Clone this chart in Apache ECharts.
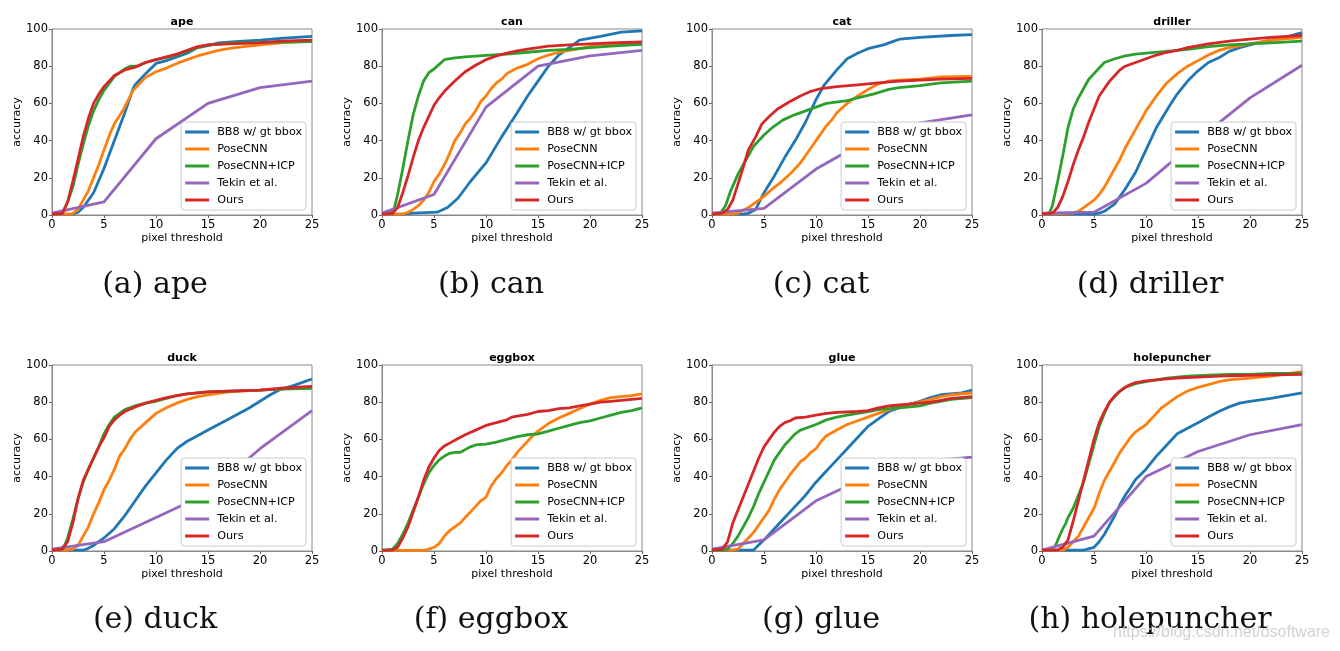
<!DOCTYPE html>
<html>
<head>
<meta charset="utf-8">
<script src="https://cdn.jsdelivr.net/npm/echarts@6/dist/echarts.min.js"></script>
<style>
html,body{margin:0;padding:0;background:#fff;}
#chart{width:1340px;height:651px;}
</style>
</head>
<body>
<div id="chart"></div>
<script>
// ---------- data ----------
const objects = ['ape','can','cat','driller','duck','eggbox','glue','holepuncher'];
const captions = ['(a) ape','(b) can','(c) cat','(d) driller','(e) duck','(f) eggbox','(g) glue','(h) holepuncher'];
const methods = ['BB8 w/ gt bbox','PoseCNN','PoseCNN+ICP','Tekin et al.','Ours'];
const xTicks = [0,5,10,15,20,25];
const yTicks = [0,20,40,60,80,100];
const watermark = 'https://blog.csdn.net/dsoftware';

// ape
const ape_bb8 = [[0,0.5],[1,0.5],[2,0.5],[2.5,1.5],[3,4],[4,12],[5,25],[6,40],[7,55],[7.8,68],[8,70],[9,76],[10,81.5],[11,83],[12,85],[13,87],[14,90],[15,91],[16,92.5],[18,93.3],[20,94],[22,95],[25,96]];
const ape_posecnn = [[0,0.5],[1,0.5],[1.9,0.5],[2.5,3],[3,8],[3.5,13],[4,20],[4.5,27],[5,35],[5.6,44],[6,49],[6.9,57],[7.8,67],[9,74],[10,77],[11,79],[12,81.5],[13,83.5],[14,85.5],[15,87],[16,88.5],[17.4,89.8],[20,91.5],[22,92.5],[25,93.5]];
const ape_icp = [[0,0.5],[1,1],[1.5,7],[2,15],[2.5,27],[3,38],[3.5,48],[4,56],[4.5,62],[5,67],[6,74.5],[7,78.5],[7.5,80],[8.2,80],[9,82],[10,83.5],[12,86],[13.9,89.8],[15,91.5],[17.4,92.5],[20,92.8],[25,93.2]];
const ape_tekin = [[0,1],[5,7],[10,41],[15,60],[20,68.5],[25,72]];
const ape_ours = [[0,0.5],[1,0.8],[1.5,7],[2,18],[2.5,30],[3,42],[3.5,52],[4,60],[4.5,65],[5,69],[6,75],[7,78],[8,79.5],[9,82],[10,83.5],[11,85],[12,86.5],[13,88.5],[14,90.5],[15,91.5],[17,92],[20,92.5],[22,93.5],[25,94]];
// can
const can_bb8 = [[0,0.5],[2,0.5],[3,1],[5.3,1.5],[6.3,4],[7.3,9],[8.5,18],[10,28],[11.5,42],[13,55],[14,64],[15,72],[16,80],[17,86],[18,90],[19,94],[21,96],[23,98.3],[25,99]];
const can_posecnn = [[0,0.5],[2,0.5],[2.5,1.5],[3,3],[3.5,5],[4,8],[4.5,12],[5,18],[5.5,22],[6,27],[6.5,33],[7,40],[7.5,44],[8,49],[8.5,52],[9,56],[9.5,61],[10,64],[10.5,68],[11,71],[11.5,73],[12,76],[13,79],[14,81],[15,84],[16,86],[17,87.5],[18,88.5],[19,89.5],[20,90.5],[22,91.5],[25,92]];
const can_icp = [[0,0.5],[0.8,1],[1.2,4],[1.5,11],[2,25],[2.5,40],[3,54],[3.5,64],[4,72],[4.5,76.5],[5,78.5],[5.5,81],[6,83.5],[7,84.5],[8,85],[10,85.8],[12,86.5],[14,87.5],[16,88.5],[18,89],[20,90],[22,90.8],[25,91.8]];
const can_tekin = [[0,1],[5,11],[10,58],[15,80],[20,85.5],[25,88.5]];
const can_ours = [[0,0.5],[1,0.8],[1.5,4],[2,12],[2.5,21],[3,31],[3.5,40],[4,47],[4.5,53],[5,59],[5.5,63],[6,66.5],[7,72],[8,77],[9,80.5],[10,83.5],[11,85.5],[12,87],[13,88.3],[14,89.2],[15,90],[16,90.8],[18,91.5],[20,92],[22,92.5],[25,93]];
// cat
const cat_bb8 = [[0,0.5],[3,0.5],[3.5,1],[4.2,3],[5,12],[6,21],[7,31],[8,40],[9,50],[10,62],[10.8,70],[12,78],[13,84],[14,87],[15,89.4],[16.5,91.5],[17.5,93.5],[18.1,94.6],[20,95.5],[23,96.5],[25,97]];
const cat_posecnn = [[0,0.5],[2,0.5],[2.5,1],[3,2.5],[3.5,4],[4,6],[4.5,8],[5,10],[5.5,12.5],[6,15],[6.5,17],[7,19.5],[7.5,22],[8,25],[8.5,28],[9,32],[9.5,36],[10,40],[10.5,44],[11,48],[11.5,51],[12,55],[13,60],[14,64],[15,67.5],[16,70.5],[17,72],[18,72.5],[20,73],[22,74.3],[25,74.5]];
const cat_icp = [[0,0.5],[0.8,1],[1.3,5],[1.8,13],[2.5,22],[3.3,30],[4,37],[5,43],[5.8,47],[6.8,51],[8,54],[9,56],[10,58],[11,60],[13,61.5],[14,63],[15.5,65],[17,67.5],[18,68.5],[20,69.5],[22,71],[25,72]];
const cat_tekin = [[0,1],[5,3.6],[10,24.7],[15,40.5],[20,49.5],[25,53.8]];
const cat_ours = [[0,0.5],[1,1],[1.5,3],[2,8],[2.8,22],[3.5,35],[4.2,42],[4.8,49],[5.5,53],[6.3,57],[7.5,61],[8.5,64],[9.5,66.5],[10.5,68],[12,69],[14,70],[16,71],[18,72],[20,72.5],[22,73],[25,73.5]];
// driller
const driller_bb8 = [[0,0.5],[5,0.5],[5.5,1],[6,2],[7,6],[8,14],[9,23],[10,35],[11,47],[12.3,59],[13,65],[14,72],[15,77.5],[16,82],[17,84.5],[18,88],[19,90],[20,91.5],[21,93],[23,95],[25,98]];
const driller_posecnn = [[0,0.5],[3,1],[3.5,2],[4,4],[5,8],[5.5,11],[6,15],[6.5,20],[7,25],[7.5,30],[8,36],[8.5,41],[9,46],[9.5,51],[10,56],[11,64],[12,71],[13,76],[14,80],[15,83],[16,86],[17,88.5],[18,90],[20,92],[22,94],[25,95.5]];
const driller_icp = [[0,0.5],[0.7,1],[1,5],[1.5,18],[2,32],[2.5,47],[3,57],[3.5,63],[4,68],[4.5,73],[5,76],[5.5,79],[6,82],[7,84],[8,85.5],[9,86.5],[10,87],[12,88],[14,89],[16,90.5],[18,91.5],[20,92],[22,92.5],[25,93.5]];
const driller_tekin = [[0,1],[5,1.5],[10,17],[15,40.5],[20,63],[25,80.5]];
const driller_ours = [[0,0.5],[1,1],[1.5,4],[2,10],[2.5,18],[3,27],[3.5,35],[4,42],[4.5,50],[5,57],[5.5,64],[6,68],[6.5,72],[7,75],[7.5,78],[8,80],[9,82],[10,84],[11,86],[12,87.5],[13,88.5],[14,90],[16,92],[18,93.5],[20,94.5],[22,95.5],[25,96.5]];
// duck
const duck_bb8 = [[0,0.5],[3,0.5],[3.3,1],[4,3],[5,7],[6,12],[7,19],[8,27],[9,35],[10,42],[11,49],[12,55],[13,59],[14,62],[15,65],[17,71],[19,77],[21,84],[22,87],[23,88.5],[25,92.5]];
const duck_posecnn = [[0,0.5],[1.5,0.5],[2,1],[2.5,3],[3,8],[3.5,13],[4,20],[4.5,26],[5,33],[5.5,38],[6,44],[6.5,51],[7,55],[7.5,60],[8,64],[9,69],[10,74],[11,77],[12,79.5],[13,81.5],[14,83],[15,84],[17,85.5],[20,86.5],[25,88]];
const duck_icp = [[0,0.5],[0.8,1],[1.2,3],[1.5,7],[2,17],[2.5,28],[3,37],[3.5,44],[4,50],[4.5,56],[5,63],[5.5,68],[6,72],[6.5,74],[7,76],[8,78],[9,79.5],[10,80.5],[11,82],[12,83.5],[13,84.5],[15,85.5],[17,86],[20,86.5],[22,87],[25,87.5]];
const duck_tekin = [[0,1],[5,5],[10,18],[15,31],[20,55],[25,75.5]];
const duck_ours = [[0,0.5],[1,1],[1.5,5],[2,15],[2.5,28],[3,38],[3.5,44],[4,50],[4.5,56],[5,61],[5.5,67],[6,70.5],[6.5,73],[7,75],[8,77.5],[9,79.5],[10,81],[11,82.5],[12,83.5],[13,84.5],[15,85.5],[17,86],[20,86.5],[22,87.5],[25,88.5]];
// eggbox (no BB8 / Tekin results)
const eggbox_bb8 = [];
const eggbox_posecnn = [[0,0.3],[4,0.3],[4.5,1],[5,2],[5.5,4],[6,8],[6.5,11],[7,13],[7.5,15],[8,18],[8.5,21],[9,24],[9.5,27],[10,29],[10.5,35],[11,39],[11.5,42],[12,46],[12.5,49],[13,53],[13.5,56],[14,59],[14.5,62],[15,64.5],[16,68.5],[17,71.5],[18,74],[19,76.5],[20,79],[21,81],[22,82.5],[23,83],[24,83.5],[25,84.5]];
const eggbox_icp = [[0,0.5],[1,1],[1.5,4],[2,9],[2.5,15],[3,22],[3.5,29],[4,36],[4.5,42],[5,46],[5.5,49],[6,51],[6.5,52.5],[7,53],[7.5,53],[8,54.5],[8.5,56],[9,57],[10,57.5],[11,58.5],[12,60],[13,61.5],[14,62.5],[15,63],[16,64.5],[17,66],[18,67.5],[19,69],[20,70],[21,71.5],[22,73],[23,74.5],[24,75.5],[25,77]];
const eggbox_tekin = [];
const eggbox_ours = [[0,0.3],[1,0.5],[1.5,2],[2,7],[2.5,13],[3,21],[3.5,29],[4,38],[4.5,45],[5,50],[5.5,54],[6,56.5],[6.5,58],[7,59.5],[7.5,61],[8,62.5],[9,65],[10,67.5],[11,69],[12,70.5],[12.5,72],[13,72.5],[14,73.5],[15,75],[16,75.5],[17,76.5],[18,77],[19,78],[20,79],[21,80],[22,80.5],[23,81],[24,81.5],[25,82]];
// glue
const glue_bb8 = [[0,0.5],[4,0.5],[5,6],[6,12],[7,18],[8,24],[9,30],[10,37],[11,43],[12,49],[13,55],[14,61],[14.5,64],[15,67],[16,71],[17,75],[18,77],[19,79],[20,80.5],[21,82.5],[22,84],[24,85],[25,86.5]];
const glue_posecnn = [[0,0.5],[2,0.5],[2.5,1],[3,4],[3.5,7],[4,10],[4.5,14],[5,18],[5.5,22],[6,28],[6.5,33],[7,37],[7.5,41],[8,44.5],[8.5,48],[9,50],[9.5,53],[10,55],[10.5,59],[11,62],[12,65],[13,68],[14,70],[15,72],[16,74],[17,76],[18,77.5],[19,79],[20,80],[21,81.5],[22,83],[23,84],[25,85]];
const glue_icp = [[0,0.5],[1,0.5],[1.5,1],[2,4],[2.5,8],[3,13],[3.5,18],[4,24],[4.5,31],[5,37],[5.5,43],[6,49],[6.5,53],[7,57],[7.5,60],[8,63],[8.5,65],[9,66],[10,68],[11,70.5],[12,72],[13,73],[14,74],[15,75],[16,76],[17,76.5],[18,77],[20,78],[21,79.5],[22,80.5],[23,81.5],[25,82.5]];
const glue_tekin = [[0,1],[5,6],[10,27],[15,40],[20,48],[25,50.5]];
const glue_ours = [[0,0.5],[1,1],[1.5,5],[2,15],[2.5,22],[3,29],[3.5,36],[4,43],[4.5,50],[5,56],[5.5,60],[6,64],[6.5,67],[7,69],[7.5,70],[8,71.5],[9,72],[10,73],[11,74],[12,74.5],[14,75],[15,75.5],[16,77],[17,78],[18,78.5],[19,79],[20,79.5],[21,80],[22,81],[23,82],[25,83]];
// holepuncher
const holepuncher_bb8 = [[0,0.5],[4,0.5],[5,2],[5.5,5],[6,9],[6.5,14],[7,19],[7.5,25],[8,30],[8.5,34],[9,38.5],[10,44],[11,51],[12,57],[13,63],[14,66],[15,69],[16,72],[17,75],[18,77.5],[19,79.5],[20,80.5],[22,82],[25,85]];
const holepuncher_posecnn = [[0,0.5],[2,0.5],[2.5,2],[3,5],[3.5,8],[4,13],[4.5,18],[5,23],[5.5,31],[6,38],[6.5,43],[7,48],[7.5,53],[8,57],[8.5,61],[9,64],[9.5,66],[10,68],[10.5,71],[11,74],[11.5,77],[12,79],[12.5,81],[13,83],[14,86],[15,88],[16,89.5],[17,91],[18,92],[19,92.5],[20,93],[22,94],[25,96.5]];
const holepuncher_icp = [[0,0.5],[1,1],[1.3,3],[1.6,7],[2,12],[2.3,15],[2.5,18],[3,23],[3.5,30],[4,37],[4.5,47],[5,57],[5.5,67],[6,74],[6.5,80],[7,83],[7.5,86],[8,88],[8.5,89],[9,90],[10,91],[11,92],[12,93],[14,94],[16,94.5],[18,95],[20,95],[22,95.5],[25,95.5]];
const holepuncher_tekin = [[0,0.5],[5,8],[10,40],[15,53.5],[20,62.5],[25,68]];
const holepuncher_ours = [[0,0.5],[1.5,0.5],[2,2],[2.5,6],[3,16],[3.5,27],[4,38],[4.5,49],[5,60],[5.5,69],[6,75],[6.5,80],[7,83.5],[7.5,86],[8,88],[8.5,89.5],[9,90.5],[10,91.5],[11,92],[12,92.5],[13,93],[15,93.5],[17,94],[20,94.5],[25,95]];

const curves = {
  ape: [ape_bb8, ape_posecnn, ape_icp, ape_tekin, ape_ours],
  can: [can_bb8, can_posecnn, can_icp, can_tekin, can_ours],
  cat: [cat_bb8, cat_posecnn, cat_icp, cat_tekin, cat_ours],
  driller: [driller_bb8, driller_posecnn, driller_icp, driller_tekin, driller_ours],
  duck: [duck_bb8, duck_posecnn, duck_icp, duck_tekin, duck_ours],
  eggbox: [eggbox_bb8, eggbox_posecnn, eggbox_icp, eggbox_tekin, eggbox_ours],
  glue: [glue_bb8, glue_posecnn, glue_icp, glue_tekin, glue_ours],
  holepuncher: [holepuncher_bb8, holepuncher_posecnn, holepuncher_icp, holepuncher_tekin, holepuncher_ours]
};

// ---------- layout / style ----------
const colors = ['#1f77b4','#ff7f0e','#2ca02c','#9467bd','#d62728'];
const W = 1340, H = 651;
const plotLefts = [52, 382, 712, 1042];
const plotTops = [29, 365];
const plotW = 260, plotH = 186;
const captionX = [155, 491, 821, 1150];
const captionY = [285, 620];
const FONT = '"DejaVu Sans", sans-serif';

const grids = [], xAxes = [], yAxes = [], titles = [], legends = [], series = [], graphics = [];
objects.forEach((obj, i) => {
  const col = i % 4, row = Math.floor(i / 4);
  const left = plotLefts[col], top = plotTops[row];
  grids.push({left: left, top: top, width: plotW, height: plotH, show: true,
    borderColor: '#8a8a8a', borderWidth: 1, backgroundColor: 'transparent', containLabel: false});
  xAxes.push({type: 'value', gridIndex: i, min: xTicks[0], max: xTicks[xTicks.length-1], interval: 5,
    name: 'pixel threshold', nameLocation: 'middle', nameGap: 18,
    nameTextStyle: {fontFamily: FONT, fontSize: 11, color: '#000'},
    axisLine: {show: true, onZero: false, lineStyle: {color: '#8a8a8a', width: 1}},
    axisTick: {show: true, length: 3, lineStyle: {color: '#666'}},
    axisLabel: {fontFamily: FONT, fontSize: 11.5, color: '#000', margin: 4},
    splitLine: {show: false}});
  yAxes.push({type: 'value', gridIndex: i, min: yTicks[0], max: yTicks[yTicks.length-1], interval: 20,
    name: 'accuracy', nameLocation: 'middle', nameGap: 27, nameRotate: 90,
    nameTextStyle: {fontFamily: FONT, fontSize: 11, color: '#000'},
    axisLine: {show: true, onZero: false, lineStyle: {color: '#8a8a8a', width: 1}},
    axisTick: {show: true, length: 3, lineStyle: {color: '#666'}},
    axisLabel: {fontFamily: FONT, fontSize: 11.5, color: '#000', margin: 4},
    splitLine: {show: false}});
  titles.push({text: obj, left: left + plotW / 2, top: top - 12, textAlign: 'center', padding: 0,
    textStyle: {fontFamily: FONT, fontSize: 11, fontWeight: 'bold', color: '#000'}});
  legends.push({orient: 'vertical', right: W - (left + plotW - 6), bottom: H - (top + plotH - 5),
    data: methods, icon: 'rect', itemWidth: 24, itemHeight: 3, itemGap: 3,
    padding: [3, 4, 3, 4], backgroundColor: '#fff', borderColor: '#cccccc', borderWidth: 1, borderRadius: 3,
    selectedMode: false,
    textStyle: {fontFamily: FONT, fontSize: 11.2, color: '#000', lineHeight: 14, padding: [0, 0, 0, 3]}});
  methods.forEach((m, k) => {
    series.push({name: m, type: 'line', xAxisIndex: i, yAxisIndex: i, data: curves[obj][k],
      showSymbol: false, symbol: 'none', smooth: false, clip: true,
      color: colors[k], lineStyle: {color: colors[k], width: 2.8}, z: 2 + k * 0.1});
  });
  graphics.push({type: 'text', x: captionX[col], y: captionY[row],
    style: {text: captions[i], fontFamily: '"DejaVu Serif", serif', fontSize: 30, fill: '#111',
      textAlign: 'center', textVerticalAlign: 'middle'}});
});
graphics.push({type: 'text', x: 1330, y: 633,
  style: {text: watermark, fontFamily: '"Liberation Sans", Arial, sans-serif', fontSize: 16, fill: '#d2d2d2',
    textAlign: 'right', textVerticalAlign: 'middle'}});

const chart = echarts.init(document.getElementById('chart'), null, {renderer: 'canvas'});
chart.setOption({
  animation: false,
  backgroundColor: '#fff',
  title: titles,
  grid: grids,
  xAxis: xAxes,
  yAxis: yAxes,
  legend: legends,
  series: series,
  graphic: graphics
});
</script>
</body>
</html>
